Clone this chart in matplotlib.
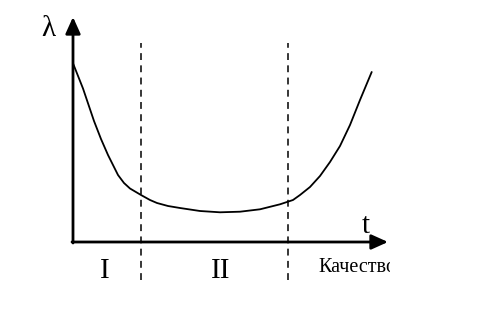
import matplotlib
matplotlib.use("Agg")
import matplotlib.pyplot as plt
from matplotlib.patches import Rectangle

# curve (t, lambda)
t_vals = [0.0, 1.0, 2.1, 2.8, 3.5, 4.5, 5.1, 5.7, 6.8, 7.7, 8.4, 9.5, 10.7,
          12.7, 14.7, 16.7, 18.7, 20.7, 22.0, 22.7, 23.7, 24.7, 25.7, 26.7, 27.7,
          28.7, 29.87]
lam_vals = [17.87, 15.35, 12.1, 10.3, 8.7, 6.7, 5.9, 5.35, 4.7, 4.2, 3.9, 3.6, 3.4,
            3.1, 2.97, 3.03, 3.27, 3.77, 4.2, 4.7, 5.5, 6.6, 8.0, 9.6, 11.7,
            14.2, 17.0]
boundaries = [6.8, 21.5]
region_labels = ["I", "II"]
region_centers = [3.2, 14.8]
y_label = "λ"
x_label = "t"
caption = "Качество"

fig = plt.figure(figsize=(5.03, 3.09), dpi=100)
ax = fig.add_axes([0, 0, 1, 1])
ax.set_xlim(-7.3, 43.0)
ax.set_ylim(-6.7, 24.2)
ax.axis("off")

serif = ["Liberation Serif", "DejaVu Serif"]

# axes arrows
ax.annotate("", xy=(0, 22.5), xytext=(0, -0.1),
            arrowprops=dict(arrowstyle="-|>,head_length=1.0,head_width=0.45", lw=2.0, color="black",
                            shrinkA=0, shrinkB=0))
ax.annotate("", xy=(31.5, 0), xytext=(-0.1, 0),
            arrowprops=dict(arrowstyle="-|>,head_length=1.0,head_width=0.45", lw=2.0, color="black",
                            shrinkA=0, shrinkB=0))

# dashed boundaries
for b in boundaries:
    ax.plot([b, b], [-3.8, 19.9], color="black", lw=1.1, linestyle=(0, (4.5, 3.5)))

# curve
ax.plot(t_vals, lam_vals, color="black", lw=1.3, solid_capstyle="round",
        solid_joinstyle="round")

ax.text(-2.5, 20.6, y_label, fontsize=21, family=serif, ha="center", va="baseline")
ax.text(29.3, 0.9, x_label, fontsize=21, family=serif, ha="center", va="baseline")
for lbl, c in zip(region_labels, region_centers):
    ax.text(c, -3.6, lbl, fontsize=21, family=serif, ha="center", va="baseline")

txt = ax.text(24.5, -3.0, caption, fontsize=14.5, family=serif, ha="left", va="baseline")
clip = Rectangle((-7.3, -6.7), 7.3 + 31.7, 31, transform=ax.transData, visible=False)
ax.add_patch(clip)
txt.set_clip_path(clip)
txt.set_clip_on(True)

fig.savefig("out.png", dpi=100)
